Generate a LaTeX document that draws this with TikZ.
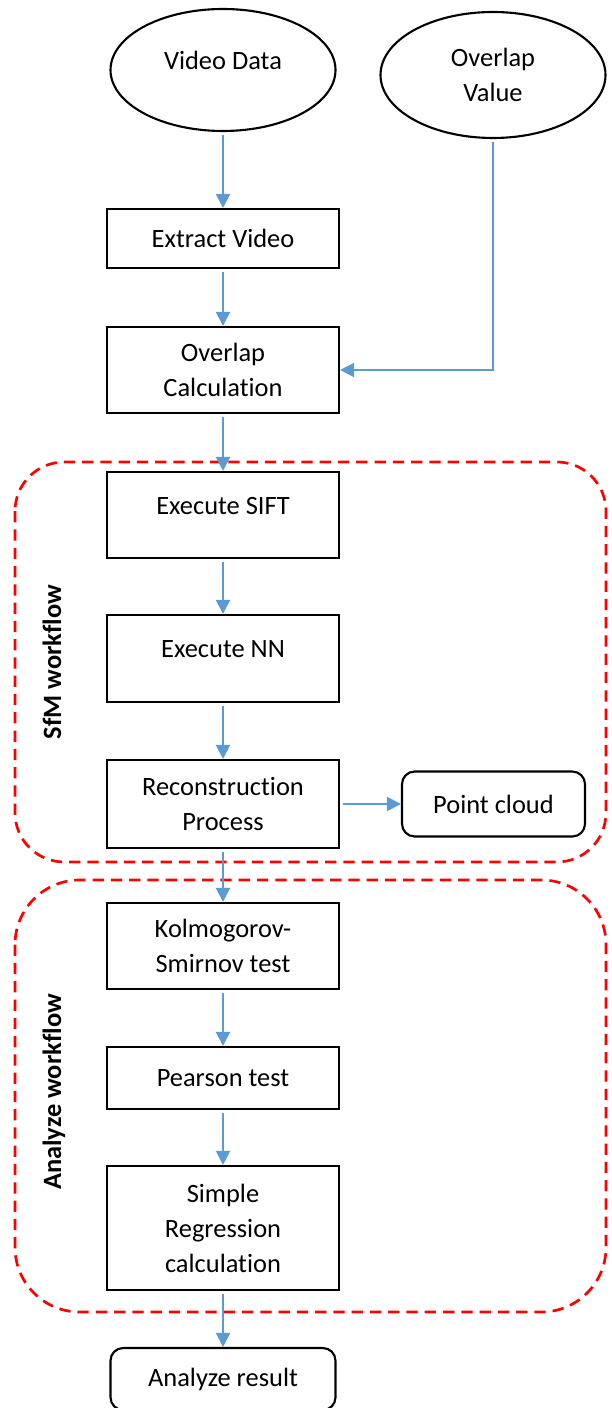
\documentclass[tikz,border=0pt]{standalone}
\usepackage{fontspec}
\setmainfont[Ligatures=NoCommon]{Carlito}
\usetikzlibrary{shapes.geometric,arrows.meta}
\definecolor{flowblue}{HTML}{5B9BD5}
\begin{document}
\begin{tikzpicture}[auto,node distance=3cm,>={Triangle[length=10pt,width=10pt]},
    font=\fontsize{18.8}{24.9}\selectfont]
    \tikzstyle{block} = [draw,rectangle,line width=1.5pt,align=center,minimum width=5.8cm]
    \tikzstyle{term} = [draw,rectangle,rounded corners=9pt,line width=1.5pt,align=center]
    \tikzstyle{oval} = [draw,ellipse,line width=1.5pt,align=center,minimum width=5.625cm]
    \tikzstyle{toptext} = [text height=13pt,text depth=14pt]
    \tikzstyle{flow} = [draw=flowblue,line width=1.5pt,shorten <=2pt]
    \tikzstyle{group} = [draw=red,line width=1.9pt,dash pattern=on 8pt off 5pt]
    \useasboundingbox (0,0) rectangle (15.275,-35.2);

    \node [oval,toptext,minimum height=3.05cm] (vdata) at (5.575,-1.75) {Video Data};
    \node [oval,minimum height=3.15cm] (ovalue) at (12.325,-1.875) {Overlap\\Value};
    \node [block,below of=vdata,node distance=4.2125cm,minimum height=1.475cm] (extract) {Extract Video};
    \node [block,below of=extract,node distance=3.2875cm,minimum height=2.15cm] (calc) {Overlap\\Calculation};
    \node [block,toptext,below of=calc,node distance=3.625cm,minimum height=2.15cm] (sift) {Execute SIFT};
    \node [block,toptext,below of=sift,node distance=3.5875cm,minimum height=2.175cm] (nn) {Execute NN};
    \node [block,below of=nn,node distance=3.6375cm,minimum height=2.2cm] (recon) {Reconstruction\\Process};
    \node [term,right of=recon,node distance=6.7625cm,minimum width=4.575cm,minimum height=1.625cm] (cloud) {Point cloud};
    \node [block,below of=recon,node distance=3.55cm,minimum height=2.15cm] (ks) {Kolmogorov-\\Smirnov test};
    \node [block,below of=ks,node distance=3.3cm,minimum height=1.55cm] (pearson) {Pearson test};
    \node [block,below of=pearson,node distance=3.75cm,minimum height=3.1cm] (regress) {Simple\\Regression\\calculation};
    \node [term,below of=regress,node distance=3.775cm,minimum width=5.625cm,minimum height=1.55cm] (result) {Analyze result};

    \draw [group,rounded corners=35pt] (0.375,-11.55) rectangle (15.15,-21.55);
    \draw [group,rounded corners=46pt] (0.375,-22.0) rectangle (15.15,-32.8);
    \node [rotate=90,font=\fontsize{18.8}{24.9}\selectfont\bfseries] (sfmlabel) at (1.3,-16.55) {SfM workflow};
    \node [rotate=90,font=\fontsize{18.8}{24.9}\selectfont\bfseries] (analabel) at (1.35,-27.3) {Analyze workflow};

    \draw [flow,->] (vdata) -- (extract);
    \draw [flow,->] (extract) -- (calc);
    \draw [flow,->] (ovalue) |- (calc);
    \draw [flow,->] (calc) -- (sift);
    \draw [flow,->] (sift) -- (nn);
    \draw [flow,->] (nn) -- (recon);
    \draw [flow,->] (recon) -- (cloud);
    \draw [flow,->] (recon) -- (ks);
    \draw [flow,->] (ks) -- (pearson);
    \draw [flow,->] (pearson) -- (regress);
    \draw [flow,->] (regress) -- (result);
  \end{tikzpicture}
\end{document}
